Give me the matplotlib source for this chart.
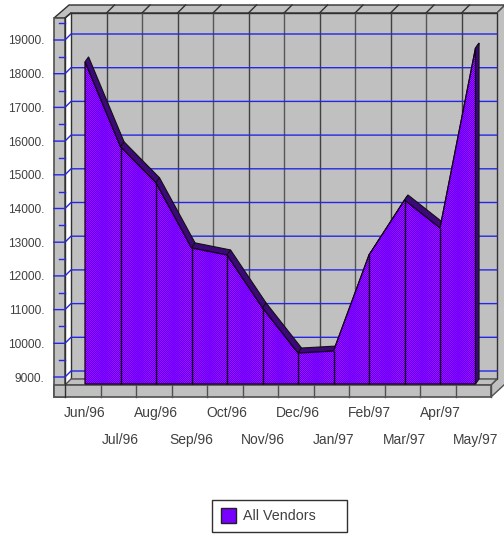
import numpy as np
import matplotlib
matplotlib.use("Agg")
import matplotlib.pyplot as plt
from matplotlib.colors import LinearSegmentedColormap
from matplotlib.patches import Polygon, Rectangle

months = ["Jun/96", "Jul/96", "Aug/96", "Sep/96", "Oct/96", "Nov/96",
          "Dec/96", "Jan/97", "Feb/97", "Mar/97", "Apr/97", "May/97"]
vendors = [18350, 15830, 14760, 12830, 12620, 11050,
           9710, 9770, 12620, 14250, 13420, 18760]
y_ticks = [9000, 10000, 11000, 12000, 13000, 14000, 15000, 16000, 17000, 18000, 19000]
y_labels = ["9000.", "10000.", "11000.", "12000.", "13000.", "14000.",
            "15000.", "16000.", "17000.", "18000.", "19000."]
legend_label = "All Vendors"

W, H = 504, 534
GREY = "#c0c0c0"
EDGE = "#505050"
BLUE = "#2626e6"
TEXT = "#404040"
PX_PER_UNIT = 0.0337
PX_PER_CAT = 35.5

plt.rcParams["font.family"] = ["Liberation Sans", "DejaVu Sans"]
fig = plt.figure(figsize=(W / 100, H / 100), dpi=100, facecolor="white")


def value_px(v):
    # pixel row of a value on the front plate
    return 377 - (v - 9000) * PX_PER_UNIT


# the 3d box behind the chart, in pixels
box = fig.add_axes([0, 0, 1, 1], zorder=0)
box.set_xlim(0, W)
box.set_ylim(H, 0)
box.axis("off")

wall_top = [(54, 18), (69, 5), (505, 5), (497, 13), (71, 13), (65, 18)]
right_wall = [(497, 13), (505, 5), (505, 384), (491, 397), (491, 385), (497, 379)]
floor = [(65, 385), (71, 379), (497, 379), (491, 385)]
box.add_patch(Polygon(wall_top, fc=GREY, ec="#303030", lw=1))
box.add_patch(Polygon(right_wall, fc=GREY, ec=EDGE, lw=1))
box.fill([71, 497, 497, 71], [13, 13, 379, 379], fc=GREY, ec="#303030", lw=1)
box.add_patch(Polygon(floor, fc=GREY, ec=EDGE, lw=1))
box.fill([54, 65, 65, 54], [18, 18, 397, 397], fc=GREY, ec=EDGE, lw=1.2)
box.fill([54, 491, 491, 54], [385, 385, 397, 397], fc=GREY, ec=EDGE, lw=1.2)
box.plot([65, 71], [18, 13], color="#303030", lw=1)
box.plot([65, 65], [18, 397], color="#303030", lw=1)

for k in range(1, 12):
    x = 71 + PX_PER_CAT * k
    box.plot([x, x], [13, 379], color="#404040" if k % 2 else "#555555", lw=1)
    box.plot([x, x + 8], [13, 5], color="#303030", lw=1)
for k in range(1, 13):
    x = 65 + PX_PER_CAT * k
    box.plot([x, x], [385, 397], color=EDGE, lw=1)

for v in y_ticks:
    y = value_px(v)
    box.plot([54, 65, 71, 497], [y, y, y - 6, y - 6], color=BLUE, lw=1)
    y2 = value_px(v + 500)
    box.plot([59, 65], [y2, y2], color=BLUE, lw=1)

# the data axes cover the front plate
ax = fig.add_axes([65 / W, 1 - 397 / H, (491 - 65) / W, (397 - 18) / H], zorder=1)
ax.patch.set_alpha(0)
for s in ax.spines.values():
    s.set_visible(False)
xlim = (-20 / PX_PER_CAT, 406 / PX_PER_CAT)
ylim = (9000 + (377 - 397) / PX_PER_UNIT, 9000 + (377 - 18) / PX_PER_UNIT)

xs = np.arange(len(months))
vals = np.array(vendors, dtype=float)
base = 9000 + (377 - 384) / PX_PER_UNIT
dx = 0.1
dy = 150

# depth of the area: one quad per segment, dark purple
dark = "#3c0a78"
for i in range(len(xs) - 1):
    ax.fill([xs[i], xs[i + 1], xs[i + 1] + dx, xs[i] + dx],
            [vals[i], vals[i + 1], vals[i + 1] + dy, vals[i] + dy],
            fc=dark, ec="#101010", lw=0.8, zorder=2)
ax.fill([xs[-1], xs[-1] + dx, xs[-1] + dx, xs[-1]],
        [vals[-1], vals[-1] + dy, base + dy, base],
        fc=dark, ec="#101010", lw=0.8, zorder=2)

# front face: dithered blue/magenta, strongest at the segment edges
shade = LinearSegmentedColormap.from_list("shade", ["#3c00ff", "#7400ff", "#c800f4"])
cols, rows = 392, 345
cc, rr = np.meshgrid(np.arange(cols), np.arange(rows))
amp = 0.25 + 0.75 * np.abs(np.cos(np.pi * cc / PX_PER_CAT))
dither = 0.5 + 0.5 * amp * np.where((cc + rr) % 2 == 0, 1, -1)
front = ax.fill(np.r_[xs[0], xs, xs[-1]], np.r_[base, vals, base],
                fc="none", ec="#140018", lw=0.9, zorder=4)[0]
mesh = ax.pcolormesh(xs[0] + np.arange(cols + 1) / PX_PER_CAT,
                     base + np.arange(rows + 1) / PX_PER_UNIT,
                     dither, cmap=shade, vmin=0, vmax=1, antialiased=False,
                     linewidth=0, zorder=3)
mesh.set_clip_path(front)
ax.set_xlim(xlim)
ax.set_ylim(ylim)
ax.vlines(xs[1:-1], base, vals[1:-1], color="#100018", lw=1, zorder=5)

ax.set_xticks(xs, months)
ax.set_yticks(y_ticks, y_labels)
ax.tick_params(axis="both", length=0, colors=TEXT)
ax.tick_params(axis="x", labelsize=10)
ax.tick_params(axis="y", labelsize=8.6, pad=15)
for i, tick in enumerate(ax.xaxis.get_major_ticks()):
    tick.set_pad(6.5 if i % 2 == 0 else 26)

# legend box
box.add_patch(Rectangle((212, 500), 135, 32, fc="white", ec="#303030", lw=1))
box.add_patch(Rectangle((221, 508), 15, 15, fc="#7800ff", ec="#202020", lw=1))
box.text(243, 516.5, legend_label, fontsize=10.3, color=TEXT, va="center", ha="left")

fig.savefig("out.png", dpi=100)
